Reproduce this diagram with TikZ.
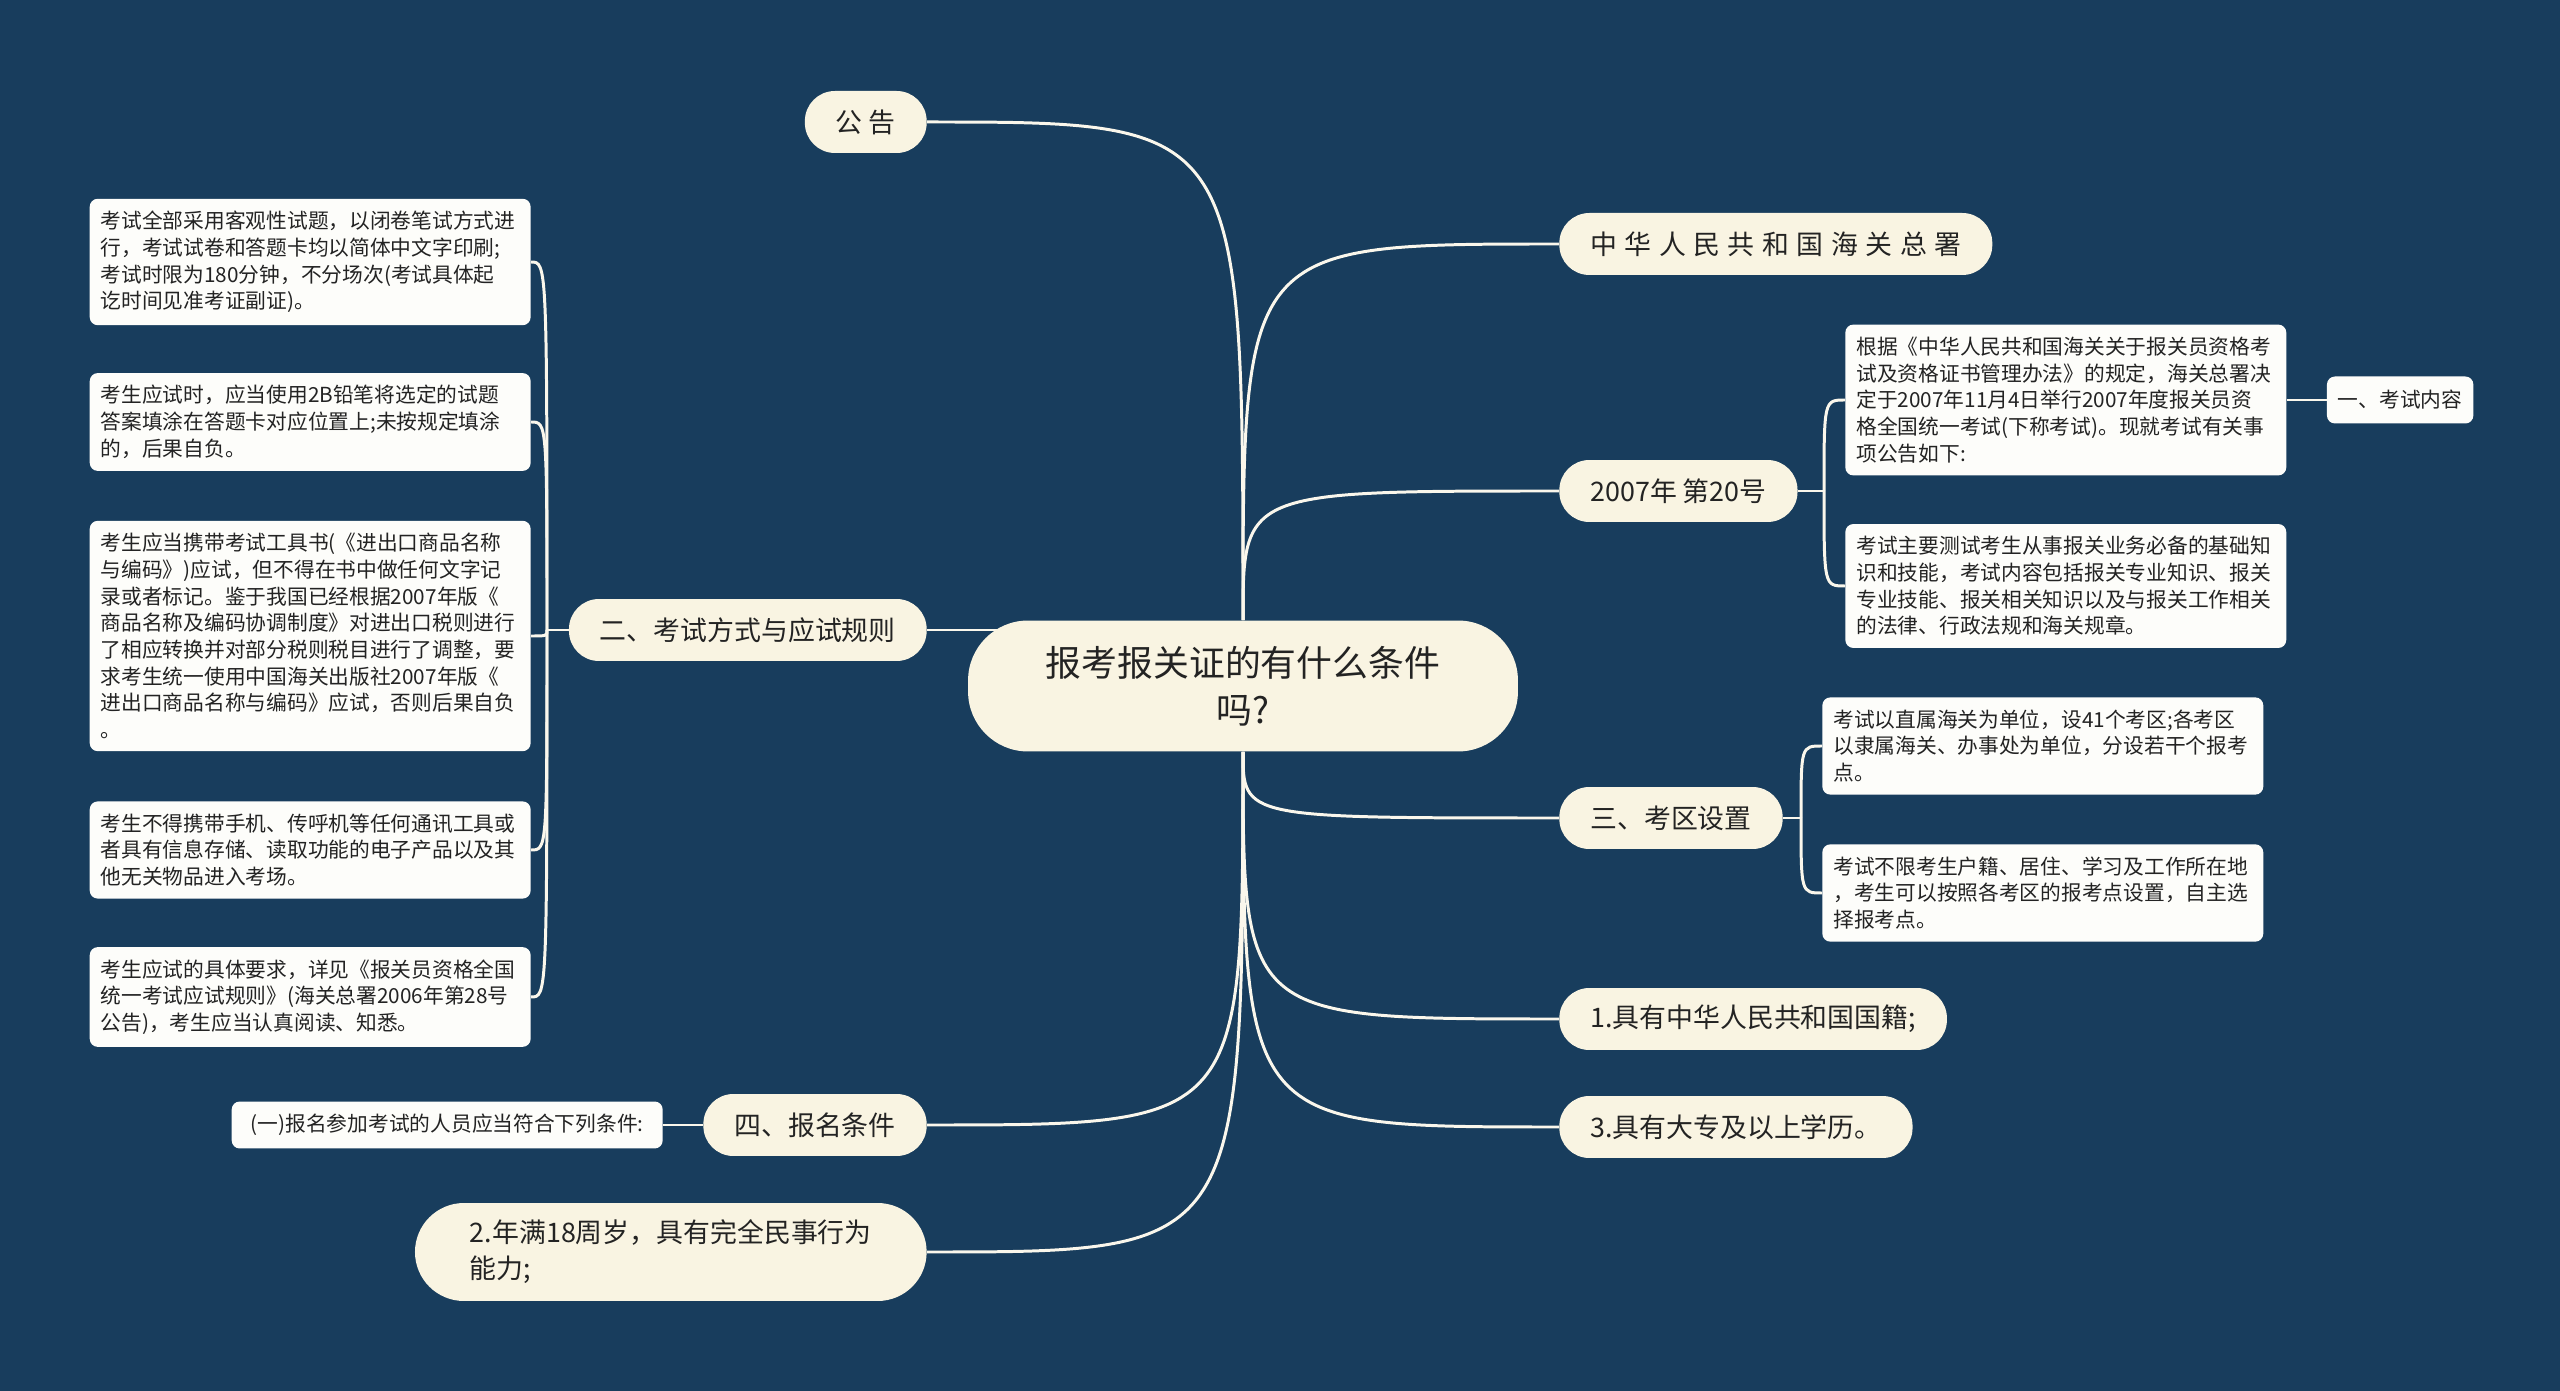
\documentclass[tikz,border=0pt]{standalone}
\usepackage{fontspec}
\setmainfont{Noto Sans CJK SC}
\usepackage{tikz}
\usetikzlibrary{positioning, backgrounds, calc}
\definecolor{bgblue}{RGB}{24,61,93}
\definecolor{mapcream}{RGB}{249,244,226}
\definecolor{leafwhite}{RGB}{253,253,250}
\definecolor{linkcolor}{RGB}{250,247,236}
\definecolor{inkdark}{RGB}{35,35,35}

\begin{document}
\begin{tikzpicture}[x=0.02cm, y=-0.02cm,
    every node/.style={text=inkdark},
    hub/.style={fill=mapcream, rounded corners=1.2cm, minimum width=11cm,
                minimum height=2.62cm, align=center,
                font=\fontsize{20.4pt}{26.7pt}\selectfont},
    topic/.style={fill=mapcream, rounded corners=0.6cm, minimum height=1.24cm,
                  inner xsep=0.62cm, inner ysep=0pt,
                  font=\fontsize{15.3pt}{20.4pt}\selectfont},
    leaf/.style={fill=leafwhite, rounded corners=0.16cm, text width=8.38cm,
                 align=left, inner xsep=0.22cm, inner ysep=7pt,
                 font=\fontsize{11.8pt}{15.2pt}\selectfont},
    tag/.style={fill=leafwhite, rounded corners=0.16cm, minimum height=0.94cm,
                inner xsep=0.22cm, inner ysep=0pt,
                font=\fontsize{11.8pt}{15.2pt}\selectfont},
    link/.style={draw=linkcolor, line width=1.7pt}
]
% --- 中心主题 ---
\node[hub] (hub) at (1243,686) {报考报关证的有什么条件\\吗?};

% --- 左侧分支 ---
\node[topic, anchor=east] (gonggao) at (927,122) {公 告};
\node[topic, anchor=east] (guize) at (927,630) {二、考试方式与应试规则};
\node[topic, anchor=east] (baoming) at (927,1125) {四、报名条件};
\node[topic, anchor=east, align=left, rounded corners=0.98cm,
      minimum height=1.96cm, inner xsep=1.1cm] (nianling) at (927,1252)
    {2.年满18周岁，具有完全民事行为\\能力;};
\node[tag, inner xsep=0.38cm, left=0.8cm of baoming] (tiaojian)
    {(一)报名参加考试的人员应当符合下列条件:};

% --- 考试方式与应试规则 ---
\node[leaf, anchor=east] (rule1) at (531,262)
    {考试全部采用客观性试题，以闭卷笔试方式进\\
     行，考试试卷和答题卡均以简体中文字印刷;\\
     考试时限为180分钟，不分场次(考试具体起\\
     讫时间见准考证副证)。};
\node[leaf, anchor=east] (rule2) at (531,422)
    {考生应试时，应当使用2B铅笔将选定的试题\\
     答案填涂在答题卡对应位置上;未按规定填涂\\
     的，后果自负。};
\node[leaf, anchor=east] (rule3) at (531,636)
    {考生应当携带考试工具书(《进出口商品名称\\
     与编码》)应试，但不得在书中做任何文字记\\
     录或者标记。鉴于我国已经根据2007年版《\\
     商品名称及编码协调制度》对进出口税则进行\\
     了相应转换并对部分税则税目进行了调整，要\\
     求考生统一使用中国海关出版社2007年版《\\
     进出口商品名称与编码》应试，否则后果自负\\
     。};
\node[leaf, anchor=east] (rule4) at (531,850)
    {考生不得携带手机、传呼机等任何通讯工具或\\
     者具有信息存储、读取功能的电子产品以及其\\
     他无关物品进入考场。};
\node[leaf, anchor=east] (rule5) at (531,997)
    {考生应试的具体要求，详见《报关员资格全国\\
     统一考试应试规则》(海关总署2006年第28号\\
     公告)，考生应当认真阅读、知悉。};

% --- 右侧分支 ---
\node[topic, anchor=west, execute at begin node={\spaceskip=0.28em\relax}]
    (zongshu) at (1559,244) {中 华 人 民 共 和 国 海 关 总 署};
\node[topic, anchor=west] (wenhao) at (1559,491) {2007年 第20号};
\node[topic, anchor=west] (kaoqu) at (1559,818) {三、考区设置};
\node[topic, anchor=west] (guoji) at (1559,1019) {1.具有中华人民共和国国籍;};
\node[topic, anchor=west] (xueli) at (1559,1127) {3.具有大专及以上学历。};

\node[leaf, anchor=west] (notice) at (1845,400)
    {根据《中华人民共和国海关关于报关员资格考\\
     试及资格证书管理办法》的规定，海关总署决\\
     定于2007年11月4日举行2007年度报关员资\\
     格全国统一考试(下称考试)。现就考试有关事\\
     项公告如下:};
\node[leaf, anchor=west] (content) at (1845,586)
    {考试主要测试考生从事报关业务必备的基础知\\
     识和技能，考试内容包括报关专业知识、报关\\
     专业技能、报关相关知识以及与报关工作相关\\
     的法律、行政法规和海关规章。};
\node[tag, right=0.8cm of notice] (neirong) {一、考试内容};

\node[leaf, anchor=west] (area1) at (1822,746)
    {考试以直属海关为单位，设41个考区;各考区\\
     以隶属海关、办事处为单位，分设若干个报考\\
     点。};
\node[leaf, anchor=west] (area2) at (1822,893)
    {考试不限考生户籍、居住、学习及工作所在地\\
     ，考生可以按照各考区的报考点设置，自主选\\
     择报考点。};

% --- 汇合点 ---
\coordinate (jl) at (547,630);
\coordinate (jw) at (1824,491);
\coordinate (jk) at (1801,818);

\begin{scope}[on background layer]
\fill[bgblue] (0,0) rectangle (2560,1391);
% 主干连线
\draw[link] (hub.north) .. controls (hub.north |- gonggao.east) .. (gonggao.east);
\foreach \t in {zongshu, wenhao}
    \draw[link] (hub.north) .. controls (hub.north |- \t.west) .. (\t.west);
\foreach \t in {kaoqu, guoji, xueli}
    \draw[link] (hub.south) .. controls (hub.south |- \t.west) .. (\t.west);
\foreach \t in {baoming, nianling}
    \draw[link] (hub.south) .. controls (hub.south |- \t.east) .. (\t.east);
\draw[link] (guize.east) -- (guize.east -| hub.center);
% 子节点连线
\draw[link] (guize.west) -- (jl);
\foreach \b in {rule1, rule2, rule3, rule4, rule5}
    \draw[link] (jl) .. controls (jl |- \b.east) .. (\b.east);
\draw[link] (wenhao.east) -- (jw);
\foreach \b in {notice, content}
    \draw[link] (jw) .. controls (jw |- \b.west) .. (\b.west);
\draw[link] (kaoqu.east) -- (jk);
\foreach \b in {area1, area2}
    \draw[link] (jk) .. controls (jk |- \b.west) .. (\b.west);
\draw[link] (notice.east) -- (neirong.west);
\draw[link] (baoming.west) -- (tiaojian.east);
\end{scope}
\end{tikzpicture}
\end{document}
